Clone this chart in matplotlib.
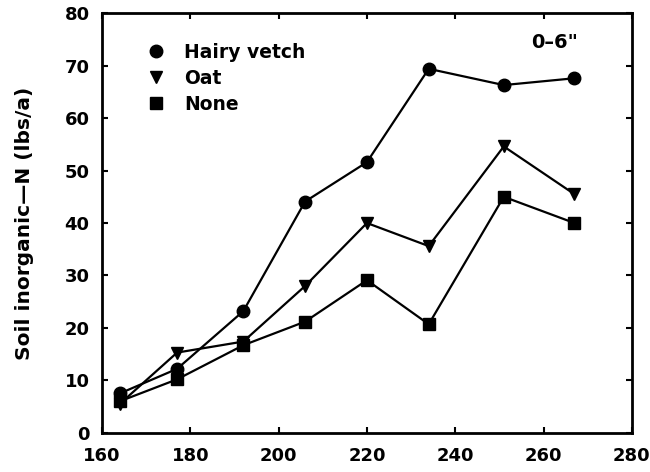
import matplotlib.pyplot as plt
from matplotlib.lines import Line2D

# days (x) and soil inorganic N, 0-6 inch layer
days = [164, 177, 192, 206, 220, 234, 251, 267]
hairy_vetch = [7.5, 12.2, 23.2, 44.1, 51.6, 69.4, 66.3, 67.6]
oat = [5.5, 15.3, 17.4, 28.0, 40.0, 35.6, 54.6, 45.5]
none = [6.0, 10.2, 16.7, 21.2, 29.1, 20.7, 45.0, 40.0]

x_ticks = [160, 180, 200, 220, 240, 260, 280]
y_ticks = [0, 10, 20, 30, 40, 50, 60, 70, 80]

plt.rcParams['font.family'] = ['DejaVu Sans']
plt.rcParams['font.weight'] = 'bold'

fig = plt.figure(figsize=(6.5, 4.72), dpi=100)
ax = fig.add_axes([0.157, 0.083, 0.815, 0.889])

ax.plot(days, hairy_vetch, color='black', lw=1.6, marker='o', ms=9)
ax.plot(days, oat, color='black', lw=1.6, marker='v', ms=9)
ax.plot(days, none, color='black', lw=1.6, marker='s', ms=8)

ax.set_xlim(160, 280)
ax.set_ylim(0, 80)
ax.set_xticks(x_ticks)
ax.set_yticks(y_ticks)
ax.tick_params(direction='in', length=4, width=1.5, top=True, right=True,
               labelsize=13)
ax.tick_params(axis='x', pad=10)
ax.tick_params(axis='y', pad=9)
for lab in ax.get_xticklabels() + ax.get_yticklabels():
    lab.set_fontweight('bold')
for sp in ax.spines.values():
    sp.set_linewidth(2)

ax.set_ylabel('Soil inorganic\u2014N (lbs/a)', fontsize=14.5, fontweight='bold',
              labelpad=22)

handles = [
    Line2D([], [], color='black', marker='o', ls='none', ms=9),
    Line2D([], [], color='black', marker='v', ls='none', ms=9),
    Line2D([], [], color='black', marker='s', ls='none', ms=8),
]
leg = ax.legend(handles, ['Hairy vetch', 'Oat', 'None'], loc='upper left',
                bbox_to_anchor=(0.035, 0.97), frameon=False, handletextpad=0.5,
                labelspacing=0.38, prop={'size': 13.5, 'weight': 'bold'})

ax.text(0.855, 0.93, '0\u20136"', transform=ax.transAxes, ha='center',
        va='center', fontsize=14, fontweight='bold')

fig.savefig('out.png', dpi=100)
